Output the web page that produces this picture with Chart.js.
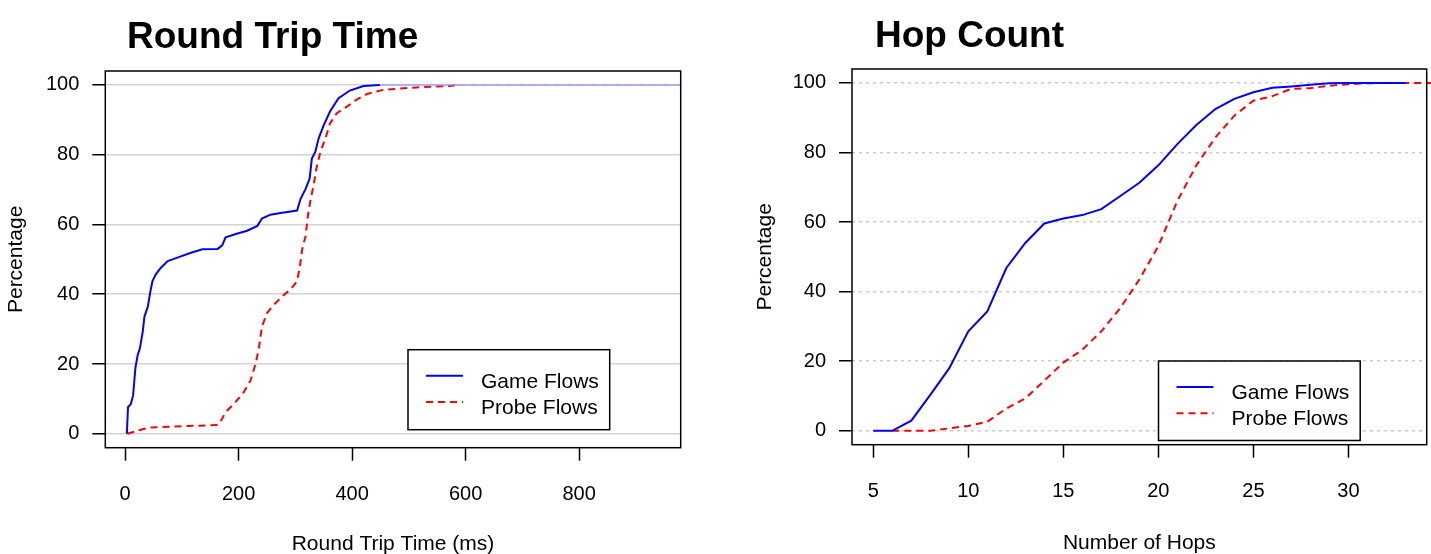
<!DOCTYPE html>
<html>
<head>
<meta charset="utf-8">
<script src="https://cdn.jsdelivr.net/npm/chart.js@4.4.0/dist/chart.umd.min.js"></script>
<style>
  html, body { margin: 0; padding: 0; background: #fff; }
  #wrap { position: relative; width: 1431px; height: 554px; overflow: hidden; }
  canvas { position: absolute; top: 0; }
  #rtt { left: 0; }
  #hops { left: 715px; }
</style>
</head>
<body>
<div id="wrap">
  <canvas id="rtt" width="715" height="554"></canvas>
  <canvas id="hops" width="716" height="554"></canvas>
</div>
<script>
// values
var rttGameMs  = [3, 5, 10, 14, 18, 22, 26, 28, 31, 34, 37, 40, 44, 48, 54, 63, 75, 92, 116, 136, 163, 171, 177, 198, 215, 233, 241, 256, 274, 303, 309, 318, 325, 329, 335, 341, 350, 361, 376, 396, 420, 449, 979];
var rttGamePct = [0, 7.6, 8.5, 11, 18.8, 22.5, 24.5, 26.4, 29.3, 33.6, 35, 36.5, 40.4, 43.7, 45.7, 47.6, 49.5, 50.5, 51.9, 52.9, 53, 54, 56.3, 57.4, 58.2, 59.6, 61.7, 62.8, 63.3, 64, 67.3, 70.2, 73.1, 78.9, 80.8, 84.7, 88.5, 92.4, 96.2, 98.4, 99.7, 100, 100];

var rttProbeMs  = [4, 22, 43, 75, 163, 170, 177, 192, 209, 221, 230, 236, 241, 250, 262, 277, 291, 303, 308, 312, 318, 322, 327, 332, 337, 344, 353, 361, 373, 391, 408, 426, 455, 513, 572, 586, 979];
var rttProbePct = [0, 0.9, 1.8, 2, 2.5, 4, 6.2, 8.6, 11.9, 15.3, 20.1, 24.9, 30.7, 34.6, 37, 39.4, 41.3, 43.7, 48.1, 52.9, 56.7, 62.5, 67.3, 71.2, 76, 80.8, 84.7, 89, 91.9, 93.8, 95.8, 97.4, 98.6, 99.3, 99.7, 100, 100];

var hopCounts   = [5, 6, 7, 8, 9, 10, 11, 12, 13, 14, 15, 16, 17, 18, 19, 20, 21, 22, 23, 24, 25, 26, 27, 28, 29, 30, 31, 32, 33, 34, 35];
var hopGamePct  = [0, 0, 2.9, 10.3, 18, 28.6, 34.3, 46.8, 54, 59.6, 61, 62, 63.7, 67.5, 71.3, 76.3, 82.4, 87.9, 92.5, 95.4, 97.3, 98.6, 99, 99.5, 99.9, 100, 100, 100, 100, null, null];
var hopProbePct = [null, 0, 0, 0, 0.7, 1.4, 2.6, 6.4, 9.3, 14.4, 19.6, 23.3, 28.6, 35.3, 43.5, 53.1, 66.1, 76.3, 84.3, 90.6, 94.9, 96.2, 98.3, 98.5, 99.2, 99.6, 99.9, 100, 100, 100, 100];

var rttTicks = [0, 200, 400, 600, 800];
var hopTicks = [5, 10, 15, 20, 25, 30];
var pctTicks = [0, 20, 40, 60, 80, 100];

var FONT = "'Liberation Sans', Arial, Helvetica, sans-serif";

function pts(xs, ys) {
    var out = [];
    xs.forEach(function (x, i) {
        if (ys[i] !== null) out.push({ x: x, y: ys[i] });
    });
    return out;
}

// frame, title and legend box drawn the way the original plot has them
var decor = {
    id: 'decor',
    afterDraw: function (chart, args, opts) {
        var ctx = chart.ctx, a = chart.chartArea;
        ctx.save();
        ctx.strokeStyle = '#000';
        ctx.lineWidth = 1.5;
        ctx.strokeRect(a.left, a.top, a.right - a.left, a.bottom - a.top);

        ctx.fillStyle = '#000';
        ctx.textAlign = 'left';
        ctx.textBaseline = 'alphabetic';
        ctx.font = 'bold 37px ' + FONT;
        ctx.fillText(opts.title, opts.titleX, opts.titleY);

        var L = opts.legend;
        ctx.fillStyle = '#fff';
        ctx.fillRect(L.x, L.y, L.w, L.h);
        ctx.strokeRect(L.x, L.y, L.w, L.h);
        ctx.font = '21px ' + FONT;
        chart.data.datasets.forEach(function (ds, i) {
            var ly = L.y + 26 + i * 26.3;
            ctx.beginPath();
            ctx.setLineDash(ds.borderDash || []);
            ctx.strokeStyle = ds.borderColor;
            ctx.lineWidth = ds.borderWidth;
            ctx.moveTo(L.x + 18, ly);
            ctx.lineTo(L.x + 55, ly);
            ctx.stroke();
            ctx.setLineDash([]);
            ctx.fillStyle = '#000';
            ctx.fillText(ds.label, L.x + 73, ly + 12);
        });
        ctx.restore();
    }
};

function makeScales(o) {
    return {
        x: {
            type: 'linear',
            min: o.xMin,
            max: o.xMax,
            afterBuildTicks: function (s) { s.ticks = o.xTicks.map(function (v) { return { value: v }; }); },
            afterFit: function (s) { s.height = o.xHeight; },
            grid: { drawOnChartArea: false, tickLength: 13, tickColor: '#000', tickWidth: 1.5 },
            border: { display: false },
            ticks: { color: '#000', font: { family: FONT, size: 20 }, padding: o.xTickPad, maxRotation: 0, autoSkip: false },
            title: { display: true, text: o.xTitle, color: '#000', font: { family: FONT, size: 21 }, padding: { top: 0, bottom: o.xTitlePad } }
        },
        y: {
            type: 'linear',
            min: -4,
            max: 104,
            afterBuildTicks: function (s) { s.ticks = pctTicks.map(function (v) { return { value: v }; }); },
            afterFit: function (s) { s.width = o.yWidth; },
            grid: { color: o.gridColor, lineWidth: 1.5, tickLength: 13, tickColor: '#000', tickWidth: 1.5, tickBorderDash: [] },
            border: { display: false, dash: o.gridDash },
            ticks: { color: '#000', font: { family: FONT, size: 20 }, padding: 13 },
            title: { display: true, text: 'Percentage', color: '#000', font: { family: FONT, size: 21 }, padding: { top: o.yTitlePad, bottom: 0 } }
        }
    };
}

function faintTop(col) {
    return function (c) {
        return (c.p0.parsed.y >= 100 && c.p1.parsed.y >= 100) ? col : undefined;
    };
}

new Chart(document.getElementById('rtt'), {
    type: 'line',
    data: {
        datasets: [{
            label: 'Game Flows',
            data: pts(rttGameMs, rttGamePct),
            borderColor: '#0000ff',
            borderWidth: 2,
            pointRadius: 0,
            segment: { borderColor: faintTop('rgba(150,150,255,0.6)') }
        }, {
            label: 'Probe Flows',
            data: pts(rttProbeMs, rttProbePct),
            borderColor: '#ff0000',
            borderWidth: 2,
            borderDash: [7, 5],
            pointRadius: 0,
            segment: { borderColor: faintTop('rgba(255,150,150,0.6)') }
        }]
    },
    options: {
        responsive: false,
        devicePixelRatio: 1,
        animation: false,
        layout: { padding: { left: 0, top: 71, right: 34.3, bottom: 0 } },
        scales: makeScales({
            xMin: -35, xMax: 979, xTicks: rttTicks, xHeight: 106.3, yWidth: 105.3,
            xTickPad: 22, xTitle: 'Round Trip Time (ms)', xTitlePad: -3, yTitlePad: 4,
            gridColor: '#d3d3d3', gridDash: []
        }),
        plugins: {
            legend: { display: false },
            tooltip: { enabled: false },
            decor: {
                title: 'Round Trip Time', titleX: 127, titleY: 48,
                legend: { x: 408, y: 349.7, w: 201.7, h: 80 }
            }
        }
    },
    plugins: [decor]
});

new Chart(document.getElementById('hops'), {
    type: 'line',
    data: {
        datasets: [{
            label: 'Game Flows',
            data: pts(hopCounts, hopGamePct),
            borderColor: '#0000ff',
            borderWidth: 2,
            pointRadius: 0
        }, {
            label: 'Probe Flows',
            data: pts(hopCounts, hopProbePct),
            borderColor: '#ff0000',
            borderWidth: 2,
            borderDash: [7, 5],
            pointRadius: 0,
            clip: false
        }]
    },
    options: {
        responsive: false,
        devicePixelRatio: 1,
        animation: false,
        layout: { padding: { left: 0, top: 69, right: 4.3, bottom: 0 } },
        scales: makeScales({
            xMin: 3.88, xMax: 34.12, xTicks: hopTicks, xHeight: 109.3, yWidth: 137,
            xTickPad: 22, xTitle: 'Number of Hops', xTitlePad: -2, yTitlePad: 37.5,
            gridColor: '#cccccc', gridDash: [3, 4]
        }),
        plugins: {
            legend: { display: false },
            tooltip: { enabled: false },
            decor: {
                title: 'Hop Count', titleX: 160, titleY: 47,
                legend: { x: 443.5, y: 361, w: 201.7, h: 79.5 }
            }
        }
    },
    plugins: [decor]
});
</script>
</body>
</html>
